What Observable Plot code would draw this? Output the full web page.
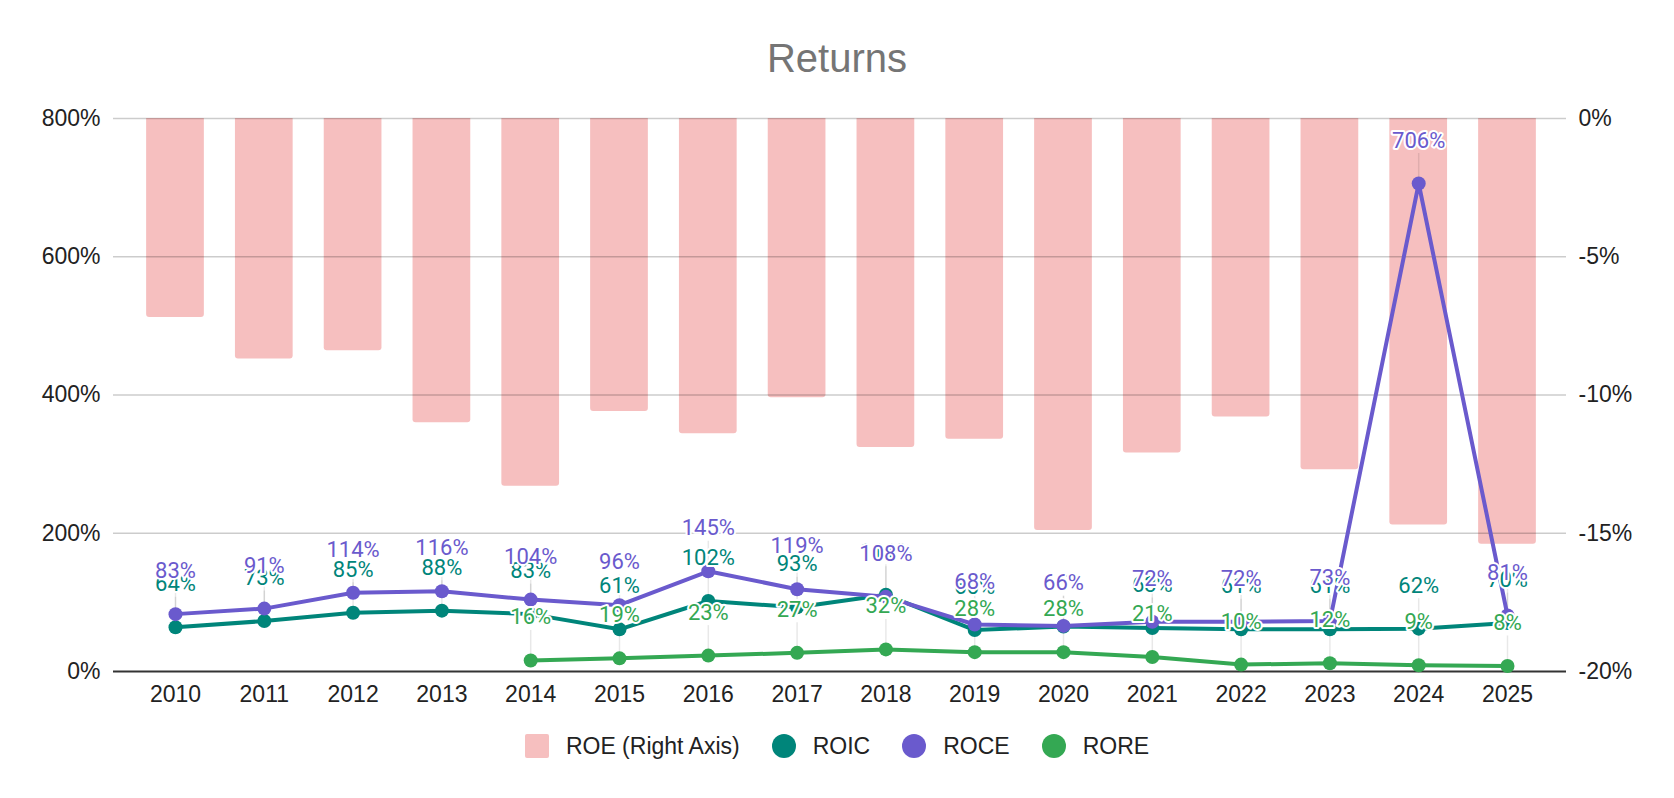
<!DOCTYPE html>
<html><head><meta charset="utf-8">
<script src="https://cdn.jsdelivr.net/npm/d3@7"></script>
<script src="https://cdn.jsdelivr.net/npm/@observablehq/plot@0.6"></script>
<style>
body{margin:0;background:#fff;width:1674px;}
#title{height:95px;box-sizing:border-box;padding-top:38px;text-align:center;font:40px/40px "Liberation Sans",Arial,sans-serif;color:#757575;}
#chart svg{display:block;}
#legend{display:flex;justify-content:center;align-items:center;height:70px;font:23px "Liberation Sans",Arial,sans-serif;color:#222;}
.item{display:flex;align-items:center;margin:0 16px;}
.sw{width:24px;height:24px;margin-right:17px;}
</style></head><body>
<div id="title">Returns</div>
<div id="chart"></div>
<div id="legend"></div>
<script>
const years = ["2010","2011","2012","2013","2014","2015","2016","2017","2018","2019","2020","2021","2022","2023","2024","2025"];
const roe  = [-7.2,-8.7,-8.4,-11.0,-13.3,-10.6,-11.4,-10.1,-11.9,-11.6,-14.9,-12.1,-10.8,-12.7,-14.7,-15.4];
const roic = [64,73,85,88,83,61,102,93,111,60,65,63,61,61,62,70];
const roce = [83,91,114,116,104,96,145,119,108,68,66,72,72,73,706,81];
const rore = [null,null,null,null,16,19,23,27,32,28,28,21,10,12,9,8];
const leftTicks = [0,200,400,600,800];
const rightTicks = [-20,-15,-10,-5,0];

const colors = {roe:"#f6bfbf", roic:"#00857a", roce:"#6a5acd", rore:"#34a853"};
const toLeft = r => (r + 20) * 40;   // right-axis % -> left-axis %
const fromLeft = v => v / 40 - 20;

const rows = years.map((year,i)=>({year, roe:roe[i], roic:roic[i], roce:roce[i], rore:rore[i]}));
const roreRows = rows.filter(d => d.rore != null);

const labelFont = {fontFamily:"Roboto, 'Noto Sans', sans-serif", fontSize:22, stroke:"white", strokeWidth:4, dy:-43};
const leader = (data, key) => Plot.ruleX(data, {x:"year", y1:key, y2:key, insetBottom:30, stroke:"black", strokeOpacity:0.09, strokeWidth:1.5});

const chart = Plot.plot({
  width:1674, height:616,
  marginTop:23, marginBottom:40, marginLeft:113, marginRight:108,
  style:{fontFamily:"'Liberation Sans', Arial, sans-serif", fontSize:"23px", color:"#222", background:"white"},
  x:{type:"band", domain:years, paddingInner:0.35, paddingOuter:0.175, insetLeft:17.6, insetRight:14.6, round:false},
  y:{domain:[0,800]},
  marks:[
    Plot.barY(rows, {x:"year", y1:()=>toLeft(1), y2:d=>toLeft(d.roe), fill:colors.roe, rx:3, clip:true}),
    Plot.ruleY(leftTicks.filter(d=>d>0), {stroke:"black", strokeOpacity:0.2, strokeWidth:1.5}),
    leader(rows,"roic"), leader(rows,"roce"), leader(roreRows,"rore"),
    Plot.ruleY([0], {stroke:"#333", strokeWidth:2}),
    Plot.axisY({ticks:leftTicks, tickFormat:d=>d+"%", tickSize:0, tickPadding:13, label:null, fontSize:23, fill:"#222"}),
    Plot.axisY({anchor:"right", ticks:rightTicks.map(toLeft), tickFormat:d=>Math.round(fromLeft(d))+"%", tickSize:0, tickPadding:12, label:null, fontSize:23, fill:"#222"}),
    Plot.axisX({tickSize:0, tickPadding:14, label:null, fontSize:23, fill:"#222"}),
    Plot.lineY(rows, {x:"year", y:"roic", stroke:colors.roic, strokeWidth:4}),
    Plot.dot(rows, {x:"year", y:"roic", fill:colors.roic, r:7}),
    Plot.lineY(rows, {x:"year", y:"roce", stroke:colors.roce, strokeWidth:4}),
    Plot.dot(rows, {x:"year", y:"roce", fill:colors.roce, r:7}),
    Plot.lineY(roreRows, {x:"year", y:"rore", stroke:colors.rore, strokeWidth:4}),
    Plot.dot(roreRows, {x:"year", y:"rore", fill:colors.rore, r:7}),
    Plot.text(rows, {x:"year", y:"roic", text:d=>d.roic+"%", fill:colors.roic, ...labelFont}),
    Plot.text(rows, {x:"year", y:"roce", text:d=>d.roce+"%", fill:colors.roce, ...labelFont}),
    Plot.text(roreRows, {x:"year", y:"rore", text:d=>d.rore+"%", fill:colors.rore, ...labelFont})
  ]
});
document.getElementById("chart").appendChild(chart);

const legendItems = [
  {name:"ROE (Right Axis)", color:colors.roe, shape:"square"},
  {name:"ROIC", color:colors.roic, shape:"circle"},
  {name:"ROCE", color:colors.roce, shape:"circle"},
  {name:"RORE", color:colors.rore, shape:"circle"}
];
const lg = document.getElementById("legend");
legendItems.forEach(it=>{
  const d = document.createElement("div"); d.className="item";
  const s = document.createElement("div"); s.className="sw";
  s.style.background = it.color;
  s.style.borderRadius = it.shape==="circle" ? "50%" : "2px";
  const t = document.createElement("span"); t.textContent = it.name;
  d.appendChild(s); d.appendChild(t); lg.appendChild(d);
});
</script>
</body></html>
